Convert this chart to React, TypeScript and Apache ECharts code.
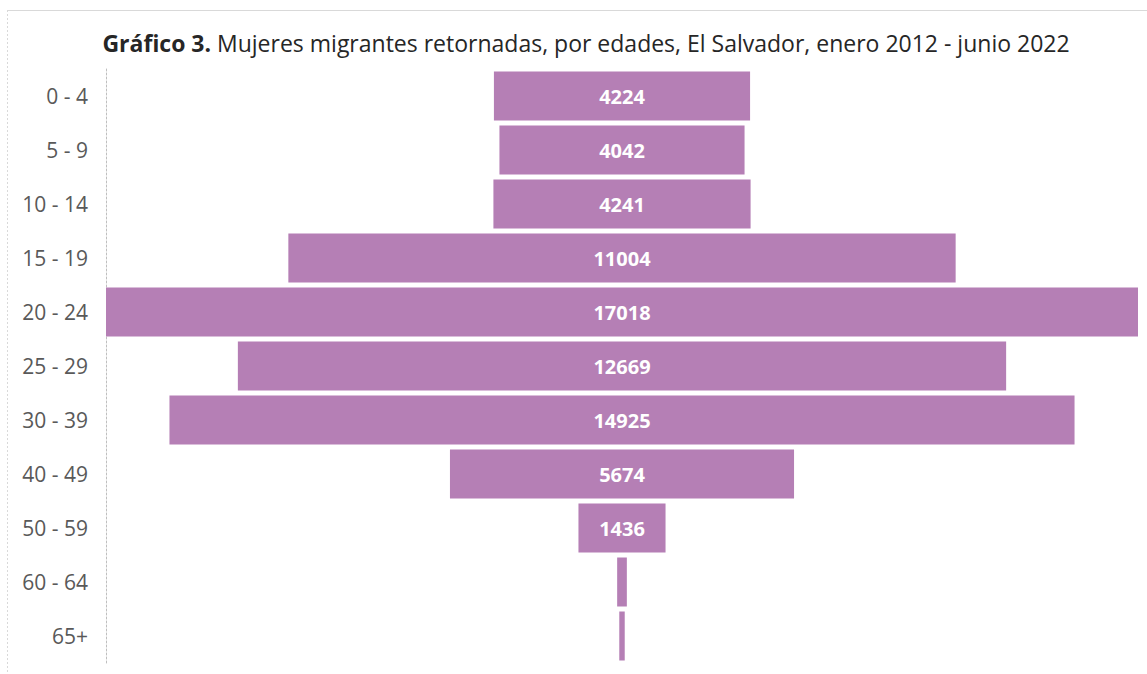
import React, { useEffect, useRef } from "react";
import * as echarts from "echarts";

const categories = ["0 - 4", "5 - 9", "10 - 14", "15 - 19", "20 - 24", "25 - 29", "30 - 39", "40 - 49", "50 - 59", "60 - 64", "65+"];
const values = [4224, 4042, 4241, 11004, 17018, 12669, 14925, 5674, 1436, 160, 90];
const maxValue = 17018;

export default function App() {
  const ref = useRef<HTMLDivElement>(null);
  useEffect(() => {
    document.body.style.margin = "0";
    const chart = echarts.init(ref.current!, null, { renderer: "svg" });
    const offsets = values.map((v) => (maxValue - v) / 2);
    chart.setOption({
      animation: false,
      backgroundColor: "#ffffff",
      title: {
        text: "{b|Gráfico 3.} Mujeres migrantes retornadas, por edades, El Salvador, enero 2012 - junio 2022",
        left: 581,
        textAlign: "center",
        top: 26,
        textStyle: {
          fontFamily: "Open Sans",
          fontSize: 23,
          fontWeight: "normal",
          color: "#262626",
          rich: {
            b: { fontFamily: "Open Sans", fontSize: 23, fontWeight: "bold", color: "#262626" },
          },
        },
      },
      graphic: [
        { type: "line", shape: { x1: 7, y1: 10.5, x2: 1147, y2: 10.5 }, style: { stroke: "#d9d9d9", lineWidth: 1 } },
        { type: "line", shape: { x1: 7.5, y1: 10, x2: 7.5, y2: 674 }, style: { stroke: "#d9d9d9", lineWidth: 1, lineDash: [2, 2] } },
      ],
      grid: { left: 106, right: 9, top: 69, bottom: 11, containLabel: false },
      xAxis: {
        type: "value",
        min: 0,
        max: maxValue,
        show: false,
      },
      yAxis: {
        type: "category",
        data: categories,
        inverse: true,
        axisLine: { show: true, lineStyle: { color: "#bfbfbf", type: [2, 2], width: 1 } },
        axisTick: { show: false },
        axisLabel: {
          fontFamily: "Open Sans",
          fontSize: 21,
          color: "#595959",
          margin: 18,
        },
      },
      series: [
        {
          type: "bar",
          stack: "p",
          data: offsets,
          itemStyle: { color: "transparent" },
          barWidth: 49,
          silent: true,
        },
        {
          type: "bar",
          stack: "p",
          data: values,
          barWidth: 49,
          itemStyle: { color: "#b57fb5" },
          label: {
            show: true,
            position: "inside",
            color: "#ffffff",
            fontFamily: "Open Sans",
            fontWeight: "bold",
            fontSize: 20,
            formatter: (p: any) => (p.value >= 1000 ? String(p.value) : ""),
          },
        },
      ],
    });
    return () => chart.dispose();
  }, []);
  return <div ref={ref} style={{ position: "fixed", left: 0, top: 0, width: 1147, height: 674 }} />;
}
